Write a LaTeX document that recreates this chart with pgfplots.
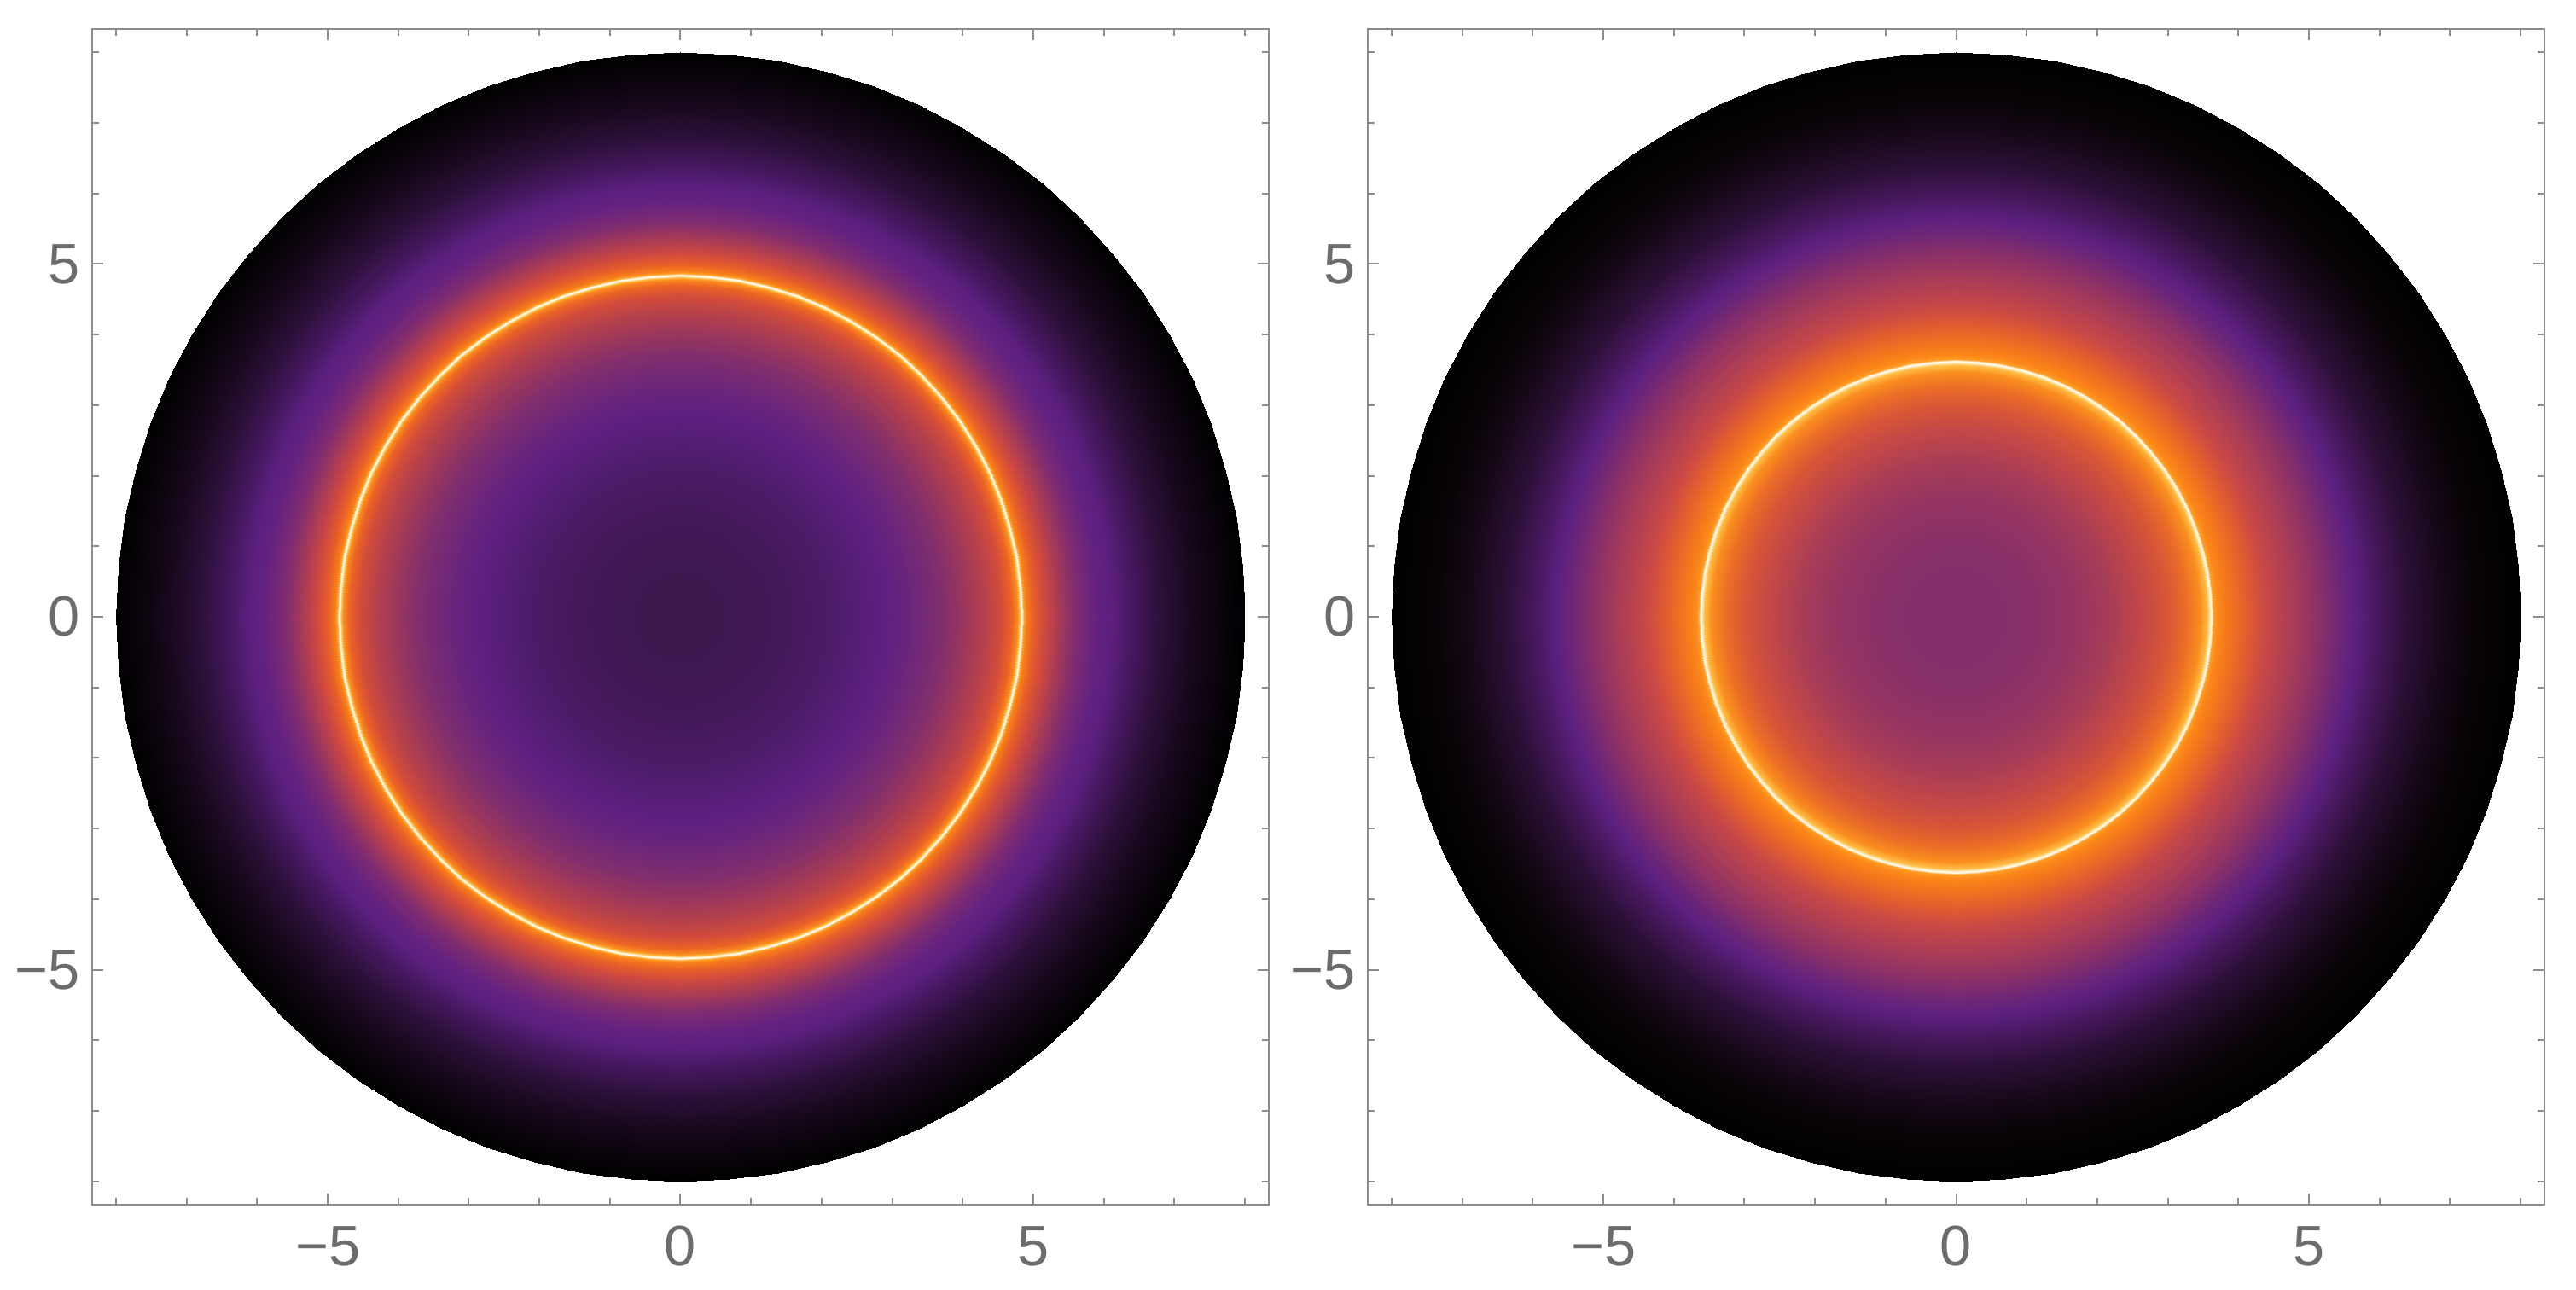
\documentclass[border=0pt]{standalone}
\usepackage{pgfplots}
\pgfplotsset{compat=1.18}
\usepackage{pgfplotstable}
\usepackage{fontspec}
\setmainfont{Liberation Sans}
\definecolor{framegray}{RGB}{140,140,140}
\definecolor{labelgray}{RGB}{108,108,108}
\pgfplotsset{
  colormap={leftmap}{[1pt]
    rgb255(0pt)=(60,24,78); rgb255(160pt)=(62,24,80); rgb255(300pt)=(68,25,90);
    rgb255(440pt)=(78,28,106); rgb255(580pt)=(94,32,130); rgb255(660pt)=(108,38,122);
    rgb255(740pt)=(128,46,110); rgb255(800pt)=(152,54,94); rgb255(860pt)=(180,64,76);
    rgb255(910pt)=(210,76,58); rgb255(940pt)=(236,100,36); rgb255(956pt)=(250,140,30);
    rgb255(962pt)=(255,190,70); rgb255(966pt)=(255,245,215); rgb255(969pt)=(255,250,235);
    rgb255(973pt)=(255,170,50); rgb255(980pt)=(248,128,24); rgb255(1000pt)=(232,96,40);
    rgb255(1030pt)=(208,74,62); rgb255(1070pt)=(170,60,84); rgb255(1120pt)=(128,44,112);
    rgb255(1180pt)=(100,34,128); rgb255(1220pt)=(92,32,128); rgb255(1280pt)=(70,24,96);
    rgb255(1360pt)=(44,16,58); rgb255(1440pt)=(26,9,32); rgb255(1520pt)=(12,4,14);
    rgb255(1600pt)=(0,0,0)},
  colormap={rightmap}{[1pt]
    rgb255(0pt)=(132,46,108); rgb255(200pt)=(136,48,106); rgb255(330pt)=(148,52,98);
    rgb255(432pt)=(166,60,88); rgb255(532pt)=(196,72,70); rgb255(600pt)=(216,86,54);
    rgb255(654pt)=(236,110,38); rgb255(694pt)=(250,142,30); rgb255(714pt)=(255,190,70);
    rgb255(722pt)=(255,245,215); rgb255(725pt)=(255,250,235); rgb255(730pt)=(255,160,40);
    rgb255(742pt)=(252,136,24); rgb255(770pt)=(244,120,28); rgb255(828pt)=(224,92,48);
    rgb255(880pt)=(200,72,70); rgb255(960pt)=(168,60,88); rgb255(1032pt)=(138,48,104);
    rgb255(1092pt)=(108,38,120); rgb255(1134pt)=(92,32,128); rgb255(1194pt)=(72,24,94);
    rgb255(1276pt)=(44,16,56); rgb255(1380pt)=(22,8,24); rgb255(1472pt)=(8,3,6);
    rgb255(1600pt)=(0,0,0)},
  panel/.style={
    scale only axis, width=206.85pt, height=206.7pt,
    xmin=-8.34, xmax=8.34, ymin=-8.33, ymax=8.33,
    axis line style={draw=framegray, line width=0.3pt},
    tick align=inside, tick pos=both,
    xticklabel pos=lower, yticklabel pos=left,
    xtick={-5,0,5}, ytick={-5,0,5},
    xticklabels={−5,0,5}, yticklabels={−5,0,5},
    minor xtick={-8,-7,-6,-4,-3,-2,-1,1,2,3,4,6,7,8},
    minor ytick={-8,-7,-6,-4,-3,-2,-1,1,2,3,4,6,7,8},
    major tick length=2pt, minor tick length=1.2pt,
    every tick/.style={draw=framegray, line width=0.3pt},
    ticklabel style={font=\fontsize{10}{12}\selectfont, text=labelgray},
    xticklabel style={inner sep=3.6pt},
    yticklabel style={inner sep=2pt},
    point meta min=0, point meta max=8,
  },
}
\pgfplotstableread{
a r
0 0
5 0
10 0
15 0
20 0
25 0
30 0
35 0
40 0
45 0
50 0
55 0
60 0
65 0
70 0
75 0
80 0
85 0
90 0
95 0
100 0
105 0
110 0
115 0
120 0
125 0
130 0
135 0
140 0
145 0
150 0
155 0
160 0
165 0
170 0
175 0
180 0
185 0
190 0
195 0
200 0
205 0
210 0
215 0
220 0
225 0
230 0
235 0
240 0
245 0
250 0
255 0
260 0
265 0
270 0
275 0
280 0
285 0
290 0
295 0
300 0
305 0
310 0
315 0
320 0
325 0
330 0
335 0
340 0
345 0
350 0
355 0
360 0
0 8
5 8
10 8
15 8
20 8
25 8
30 8
35 8
40 8
45 8
50 8
55 8
60 8
65 8
70 8
75 8
80 8
85 8
90 8
95 8
100 8
105 8
110 8
115 8
120 8
125 8
130 8
135 8
140 8
145 8
150 8
155 8
160 8
165 8
170 8
175 8
180 8
185 8
190 8
195 8
200 8
205 8
210 8
215 8
220 8
225 8
230 8
235 8
240 8
245 8
250 8
255 8
260 8
265 8
270 8
275 8
280 8
285 8
290 8
295 8
300 8
305 8
310 8
315 8
320 8
325 8
330 8
335 8
340 8
345 8
350 8
355 8
360 8
}\disk
\begin{document}
\begin{tikzpicture}
\path[use as bounding box] (0,0) rectangle (452.85pt,226.8pt);
\begin{axis}[panel, at={(16.2pt,15pt)}, anchor=south west, colormap name=leftmap]
\addplot[surf, shader=interp, mesh/rows=2, mesh/cols=73, point meta=explicit]
  table[x expr={\thisrow{r}*cos(\thisrow{a})}, y expr={\thisrow{r}*sin(\thisrow{a})}, meta=r] {\disk};
\end{axis}
\begin{axis}[panel, at={(240.45pt,15pt)}, anchor=south west, colormap name=rightmap]
\addplot[surf, shader=interp, mesh/rows=2, mesh/cols=73, point meta=explicit]
  table[x expr={\thisrow{r}*cos(\thisrow{a})}, y expr={\thisrow{r}*sin(\thisrow{a})}, meta=r] {\disk};
\end{axis}
\end{tikzpicture}
\end{document}
